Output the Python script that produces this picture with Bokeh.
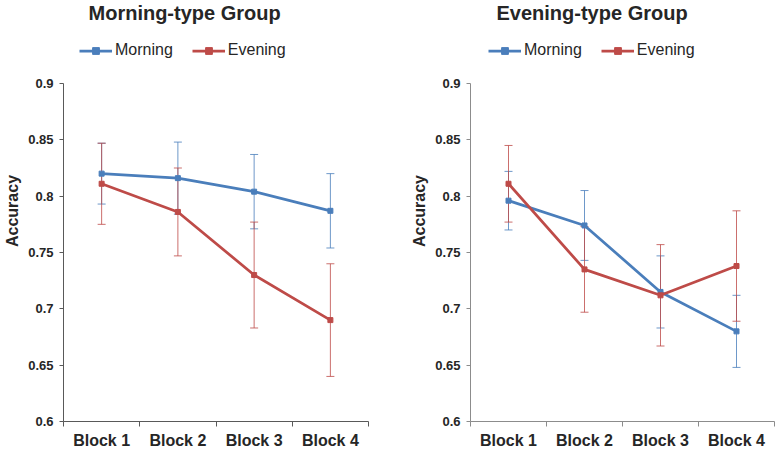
from bokeh.plotting import figure
from bokeh.layouts import row
from bokeh.models import (Range1d, FixedTicker, Legend, LegendItem, Whisker, TeeHead,
                          ColumnDataSource, Label)
from bokeh.embed import file_html
from bokeh.resources import INLINE

blocks = ["Block 1", "Block 2", "Block 3", "Block 4"]
y_ticks = [0.6, 0.65, 0.7, 0.75, 0.8, 0.85, 0.9]
y_tick_labels = ["0.6", "0.65", "0.7", "0.75", "0.8", "0.85", "0.9"]

# Morning-type group
mg_morning = [0.820, 0.816, 0.804, 0.787]
mg_morning_err = [0.027, 0.032, 0.033, 0.033]
mg_evening = [0.811, 0.786, 0.730, 0.690]
mg_evening_err = [0.036, 0.039, 0.047, 0.050]

# Evening-type group
eg_morning = [0.796, 0.774, 0.715, 0.680]
eg_morning_err = [0.026, 0.031, 0.032, 0.032]
eg_evening = [0.811, 0.735, 0.712, 0.738]
eg_evening_err = [0.034, 0.038, 0.045, 0.049]

BLUE = "#4A7EBB"
RED = "#BE4B48"
TXT = "#262626"
FONT = "Liberation Sans"

Y_MIN, Y_MAX = 0.6, 0.9
FRAME_H = 421          # frame from canvas top down to the x axis
PLOT_H = 338           # pixels between 0.6 and 0.9
Y_TOP = Y_MIN + (Y_MAX - Y_MIN) * FRAME_H / PLOT_H   # extra headroom for title and legend


def make_panel(title, morning, m_err, evening, e_err, width, left, right, axis_col, title_off, leg_off):
    x = list(range(1, len(blocks) + 1))
    p = figure(width=width, height=451, output_backend="svg", toolbar_location=None,
               x_range=Range1d(0.5, len(blocks) + 0.5), y_range=Range1d(Y_MIN, Y_TOP),
               min_border_left=left, min_border_right=right, min_border_top=0,
               min_border_bottom=30)
    p.outline_line_color = None
    p.grid.visible = False
    p.background_fill_color = "white"
    p.border_fill_color = "white"

    p.add_layout(Label(x=title_off, y=FRAME_H - 12, x_units="screen", y_units="screen",
                       text=title, text_font=FONT, text_font_style="bold", text_font_size="20px",
                       text_color=TXT, text_baseline="middle", text_align="left"))

    # y axis
    ya = p.yaxis[0]
    ya.bounds = (Y_MIN, Y_MAX)
    ya.ticker = FixedTicker(ticks=y_ticks)
    ya.major_label_overrides = {t: l for t, l in zip(y_ticks, y_tick_labels)}
    ya.axis_label = "Accuracy"
    ya.axis_label_text_font = FONT
    ya.axis_label_text_font_style = "bold"
    ya.axis_label_text_font_size = "16px"
    ya.axis_label_text_color = TXT
    ya.axis_label_standoff = 4
    ya.major_label_text_font = FONT
    ya.major_label_text_font_style = "bold"
    ya.major_label_text_font_size = "13px"
    ya.major_label_text_color = TXT
    ya.major_label_standoff = 6
    ya.major_tick_out = 4
    ya.major_tick_in = 0
    ya.minor_tick_out = 0
    ya.minor_tick_in = 0
    ya.axis_line_color = axis_col
    ya.major_tick_line_color = axis_col

    # x axis
    xa = p.xaxis[0]
    xa.ticker = FixedTicker(ticks=x, minor_ticks=[i - 0.5 for i in x] + [len(x) + 0.5])
    xa.major_label_overrides = {i: b for i, b in zip(x, blocks)}
    xa.major_label_text_font = FONT
    xa.major_label_text_font_style = "bold"
    xa.major_label_text_font_size = "16px"
    xa.major_label_text_color = TXT
    xa.major_label_standoff = 5
    xa.major_tick_line_color = None
    xa.major_tick_out = 4
    xa.major_tick_in = 0
    xa.minor_tick_out = 5
    xa.minor_tick_in = 0
    xa.minor_tick_line_color = axis_col
    xa.axis_line_color = axis_col

    items = []
    for name, vals, errs, col in (("Morning", morning, m_err, BLUE), ("Evening", evening, e_err, RED)):
        src = ColumnDataSource(dict(x=x, y=vals,
                                    upper=[v + e for v, e in zip(vals, errs)],
                                    lower=[v - e for v, e in zip(vals, errs)]))
        w = Whisker(source=src, base="x", upper="upper", lower="lower",
                    line_color=col, line_width=1, line_alpha=0.8,
                    upper_head=TeeHead(size=8, line_color=col, line_width=1, line_alpha=0.8),
                    lower_head=TeeHead(size=8, line_color=col, line_width=1, line_alpha=0.8))
        p.add_layout(w)
    for name, vals, errs, col in (("Morning", morning, m_err, BLUE), ("Evening", evening, e_err, RED)):
        src = ColumnDataSource(dict(x=x, y=vals))
        ln = p.line("x", "y", source=src, line_color=col, line_width=2.75)
        mk = p.scatter("x", "y", source=src, marker="square", size=5, fill_color=col, line_color=col)
        items.append(LegendItem(label=name, renderers=[ln, mk]))

    leg = Legend(items=items, orientation="horizontal", location=(leg_off, FRAME_H - 59),
                 glyph_width=33, glyph_height=17, label_height=17, label_standoff=3, spacing=19,
                 padding=0, margin=0, border_line_color=None, background_fill_alpha=0,
                 label_text_font=FONT, label_text_font_size="16px", label_text_color=TXT)
    p.add_layout(leg)
    return p


p1 = make_panel("Morning-type Group", mg_morning, mg_morning_err, mg_evening, mg_evening_err,
                390, 63, 22, "#595959", 25, 16)
p2 = make_panel("Evening-type Group", eg_morning, eg_morning_err, eg_evening, eg_evening_err,
                390, 80, 6, "#8c8c8c", 26, 18)

layout = row(p1, p2, spacing=0)
open("out.html", "w").write(file_html(layout, INLINE))
